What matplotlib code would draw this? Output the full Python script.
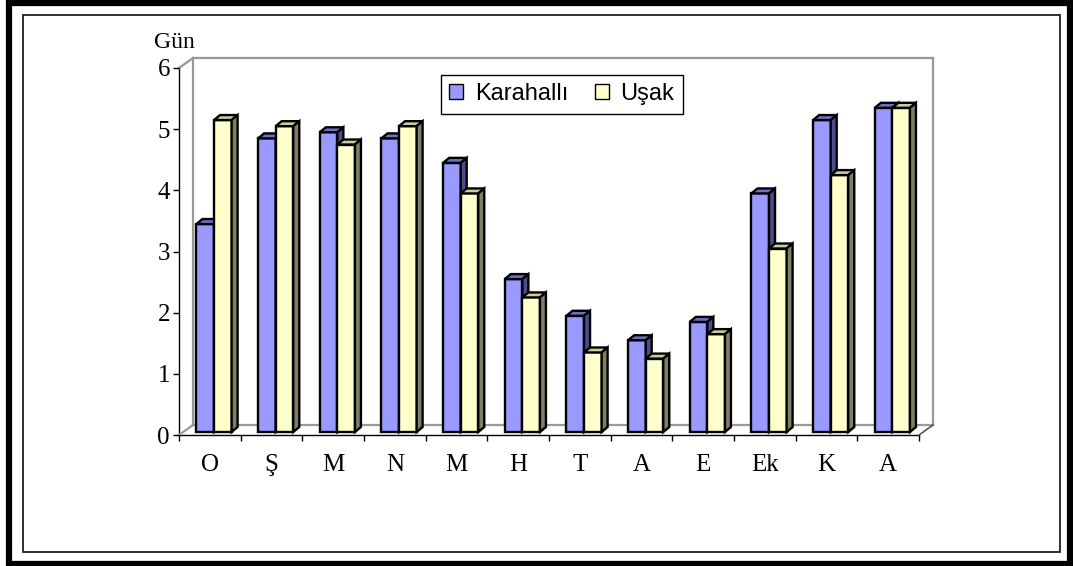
import numpy as np
import matplotlib
matplotlib.use("Agg")
import matplotlib.pyplot as plt
from matplotlib.patches import Rectangle, Polygon, Patch

# data
months = ["O", "Ş", "M", "N", "M", "H", "T", "A", "E", "Ek", "K", "A"]
karahalli = [3.4, 4.8, 4.9, 4.8, 4.4, 2.5, 1.9, 1.5, 1.8, 3.9, 5.1, 5.3]
usak = [5.1, 5.0, 4.7, 5.0, 3.9, 2.2, 1.3, 1.2, 1.6, 3.0, 4.2, 5.3]
series_names = ["Karahallı", "Uşak"]

W, H = 1073, 566
fig = plt.figure(figsize=(W / 100, H / 100), dpi=100)

# outer and inner frames (figure pixels)
def px_rect(x0, y0, x1, y1, lw, color):
    r = Rectangle((x0 / W, 1 - y1 / H), (x1 - x0) / W, (y1 - y0) / H,
                  transform=fig.transFigure, fill=False, lw=lw, edgecolor=color)
    fig.add_artist(r)

px_rect(9, 3, 1070, 564, 4.5, "black")
px_rect(23, 15, 1060, 552, 1.3, "#202020")

# front plane of the plot: x 179..919 px, y 435 (0) .. 68 (6)
ax = fig.add_axes([179 / W, (H - 435) / H, 740 / W, 367 / H])
ax.set_xlim(0, 12)
ax.set_ylim(0, 6)
ax.patch.set_alpha(0)

xu = 740 / 12   # px per category
yu = 367 / 6    # px per value unit

# wall depth offset
wx, wy = 14 / xu, 10 / yu
gray = "#999999"
wall_kw = dict(color=gray, lw=1.6, clip_on=False, zorder=1)
ax.plot([0, wx], [0, wy], **wall_kw)
ax.plot([0, wx], [6, 6 + wy], **wall_kw)
ax.plot([wx, wx], [wy, 6 + wy], **wall_kw)
ax.plot([wx, 12 + wx], [6 + wy, 6 + wy], **wall_kw)
ax.plot([12 + wx, 12 + wx], [wy, 6 + wy], **wall_kw)
ax.plot([wx, 12 + wx], [wy, wy], **wall_kw)
ax.plot([12, 12 + wx], [0, wy], color="#555555", lw=1.2, clip_on=False, zorder=1)

# bars: front face sits a bit into the depth
bx0, by0 = 4.2 / xu, 3 / yu
bdx, bdy = 6 / xu, 5 / yu
bar_w = 0.285

fronts = ["#9999FF", "#FFFFCC"]
tops = ["#6F6FC8", "#CCCC99"]
sides = ["#4D4D8C", "#7F7F66"]

z = 2
for i in range(len(months)):
    for s, vals in enumerate([karahalli, usak]):
        v = vals[i]
        x0 = i + 0.5 - bar_w + s * bar_w + bx0
        y0 = by0
        x1 = x0 + bar_w
        y1 = y0 + v
        ax.add_patch(Rectangle((x0, y0), bar_w, v, facecolor=fronts[s],
                               edgecolor="black", lw=1.7, clip_on=False,
                               zorder=z, joinstyle="miter"))
        ax.add_patch(Polygon([(x0, y1), (x1, y1), (x1 + bdx, y1 + bdy),
                              (x0 + bdx, y1 + bdy)], closed=True,
                             facecolor=tops[s], edgecolor="black", lw=1.7,
                             clip_on=False, zorder=z, joinstyle="miter"))
        ax.add_patch(Polygon([(x1, y0), (x1 + bdx, y0 + bdy),
                              (x1 + bdx, y1 + bdy), (x1, y1)], closed=True,
                             facecolor=sides[s], edgecolor="black", lw=1.7,
                             clip_on=False, zorder=z, joinstyle="miter"))
        z += 1

# axes, ticks
for sp in ["top", "right"]:
    ax.spines[sp].set_visible(False)
for sp in ["left", "bottom"]:
    ax.spines[sp].set_color("black")
    ax.spines[sp].set_linewidth(1.0)
    ax.spines[sp].set_zorder(0.5)

serif = "Liberation Serif"
ax.set_yticks(range(0, 7))
ax.set_yticklabels([str(v) for v in range(0, 7)], fontfamily=serif, fontsize=18)
ax.set_xticks(range(0, 13))
ax.set_xticklabels([""] * 13)
ax.set_xticks(np.arange(len(months)) + 0.5, minor=True)
ax.set_xticklabels(months, minor=True, fontfamily=serif, fontsize=18)
ax.tick_params(axis="both", which="major", direction="out", length=4.5,
               width=1.0, color="black")
ax.tick_params(axis="y", pad=2)
ax.tick_params(axis="x", which="minor", length=0, pad=14)

fig.text(174 / W, 1 - 42 / H, "Gün", fontfamily=serif, fontsize=17,
         ha="center", va="center")

handles = [Patch(facecolor=fronts[0], edgecolor="black", lw=1.0),
           Patch(facecolor=fronts[1], edgecolor="black", lw=1.0)]
leg = fig.legend(handles, series_names, loc="upper left",
                 bbox_to_anchor=(441 / W, 1 - 75 / H), ncol=2,
                 prop={"family": "Liberation Sans", "size": 17},
                 frameon=True, fancybox=False, framealpha=1,
                 edgecolor="black", handlelength=0.6, handleheight=0.6,
                 handletextpad=0.5, columnspacing=1.1, borderpad=0.35,
                 borderaxespad=0)
leg.get_frame().set_linewidth(1.0)

fig.savefig("out.png", dpi=100)
